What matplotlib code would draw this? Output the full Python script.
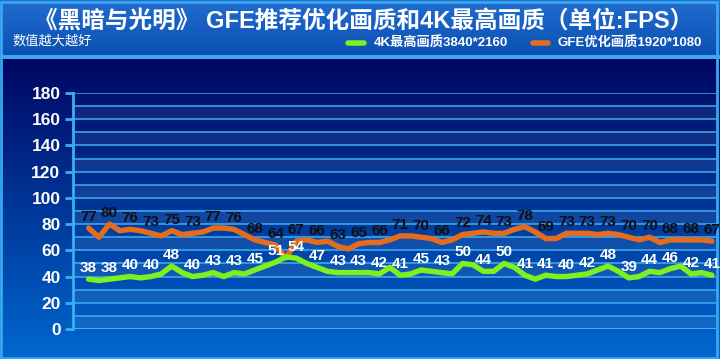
import numpy as np
import matplotlib
matplotlib.use('Agg')
import matplotlib.pyplot as plt
from matplotlib.patches import Rectangle

plt.rcParams['font.family'] = ['Liberation Sans', 'Noto Sans CJK SC', 'DejaVu Sans']

title = '《黑暗与光明》 GFE推荐优化画质和4K最高画质（单位:FPS）'
subtitle = '数值越大越好'
name_4k = '4K最高画质3840*2160'
name_gfe = 'GFE优化画质1920*1080'

# labelled samples (every other point carries a label)
gfe_labels = [77, 80, 76, 73, 75, 73, 77, 76, 68, 64, 67, 66, 63, 65, 66, 71,
              70, 66, 72, 74, 73, 78, 69, 73, 73, 73, 70, 70, 68, 68, 67]
k4_labels = [38, 38, 40, 40, 48, 40, 43, 43, 45, 51, 54, 47, 43, 43, 42, 41,
             45, 43, 50, 44, 50, 41, 41, 40, 42, 48, 39, 44, 46, 42, 41]
# unlabelled samples in between
gfe_between = [70, 75, 75, 71, 72, 74, 77, 72, 66, 54, 68, 67, 61, 66, 68,
               71, 69, 68, 73, 73, 76, 74, 69, 73, 72, 72, 68, 66, 68, 68]
k4_between = [37, 39, 39, 42, 43, 41, 40, 42, 48, 55, 50, 44, 43, 43, 47,
              42, 44, 42, 49, 44, 47, 38, 40, 41, 45, 44, 40, 43, 48, 43]


def merge(lab, mid):
    out = []
    for i, v in enumerate(lab):
        out.append(v)
        if i < len(mid):
            out.append(mid[i])
    return np.array(out)


gfe = merge(gfe_labels, gfe_between)
k4 = merge(k4_labels, k4_between)
x = np.arange(len(gfe))

fig = plt.figure(figsize=(7.2, 3.59), dpi=100)

# background gradient
H = 359
grad = np.zeros((H, 1, 3))
top = np.array([0x22, 0x6c, 0xd0]) / 255
top2 = np.array([0x0a, 0x50, 0xb2]) / 255
navy = np.array([0x00, 0x06, 0x62]) / 255
bottom = np.array([0x00, 0x68, 0xd0]) / 255
for r in range(H):
    if r < 55:
        t = r / 55
        grad[r, 0] = top * (1 - t) + top2 * t
    elif r < 59:
        grad[r, 0] = np.array([0x40, 0xa8, 0xf0]) / 255
    else:
        t = (r - 59) / (H - 59)
        grad[r, 0] = navy * (1 - t) + bottom * t
bg = fig.add_axes([0, 0, 1, 1])
bg.imshow(grad, aspect='auto', extent=[0, 1, 0, 1])
bg.set_xlim(0, 1)
bg.set_ylim(0, 1)
bg.axis('off')
bg.add_patch(Rectangle((0.002, 0.004), 0.994, 0.99, fill=False,
                       edgecolor='#38a8f0', linewidth=2))

ax = fig.add_axes([73 / 720, 30 / 359, 643 / 720, 236 / 359])
ax.patch.set_alpha(0)
ax.set_ylim(0, 180)
ax.set_xlim(-1.5, len(x) - 0.6)

for lo in range(0, 180, 20):
    ax.axhspan(lo, lo + 10, color='white', alpha=0.07, lw=0, zorder=0)
for yv in range(10, 190, 10):
    ax.axhline(yv, color='#3cb0f0', lw=1.1, zorder=1)
ax.axhline(0, color='#3cb0f0', lw=1.5, zorder=1)

for s in ['top', 'right', 'bottom']:
    ax.spines[s].set_visible(False)
ax.spines['left'].set_color('#38b0f0')
ax.spines['left'].set_linewidth(2)
ax.set_xticks([])
ax.set_yticks(range(0, 181, 20))
ax.tick_params(axis='y', colors='#38b0f0', length=6, width=2, pad=3)
for t in ax.get_yticklabels():
    t.set_color('white')
    t.set_fontsize(12.5)
    t.set_fontweight('bold')

ax.plot(x, gfe, color='#e46c1c', lw=3.9, zorder=3, solid_capstyle='round',
        solid_joinstyle='round')
ax.plot(x, k4, color='#7ef01e', lw=3.9, zorder=4, solid_capstyle='round',
        solid_joinstyle='round')

for i, v in enumerate(gfe_labels):
    ax.annotate(str(v), (2 * i, v), xytext=(0, 3), textcoords='offset points',
                ha='center', va='bottom', fontsize=11, fontweight='bold',
                color='#101010', zorder=5)
for i, v in enumerate(k4_labels):
    ax.annotate(str(v), (2 * i, v), xytext=(0, 3), textcoords='offset points',
                ha='center', va='bottom', fontsize=11, fontweight='bold',
                color='white', zorder=5)

fig.text(0.505, 1 - 21 / 359, title, ha='center', va='center', color='white',
         fontsize=17, fontweight='bold')
fig.text(12 / 720, 1 - 41 / 359, subtitle, ha='left', va='center',
         color='white', fontsize=9.5)

# legend
ly = 1 - 43 / 359
bg.plot([348 / 720, 364 / 720], [ly, ly], color='#7ef01e', lw=4,
        solid_capstyle='round')
bg.text(374 / 720, ly, name_4k, ha='left', va='center', color='white',
        fontsize=9.5, fontweight='bold')
bg.plot([533 / 720, 548 / 720], [ly, ly], color='#e46c1c', lw=4,
        solid_capstyle='round')
bg.text(557 / 720, ly, name_gfe, ha='left', va='center', color='white',
        fontsize=9.5, fontweight='bold')

fig.savefig('out.png', dpi=100)
